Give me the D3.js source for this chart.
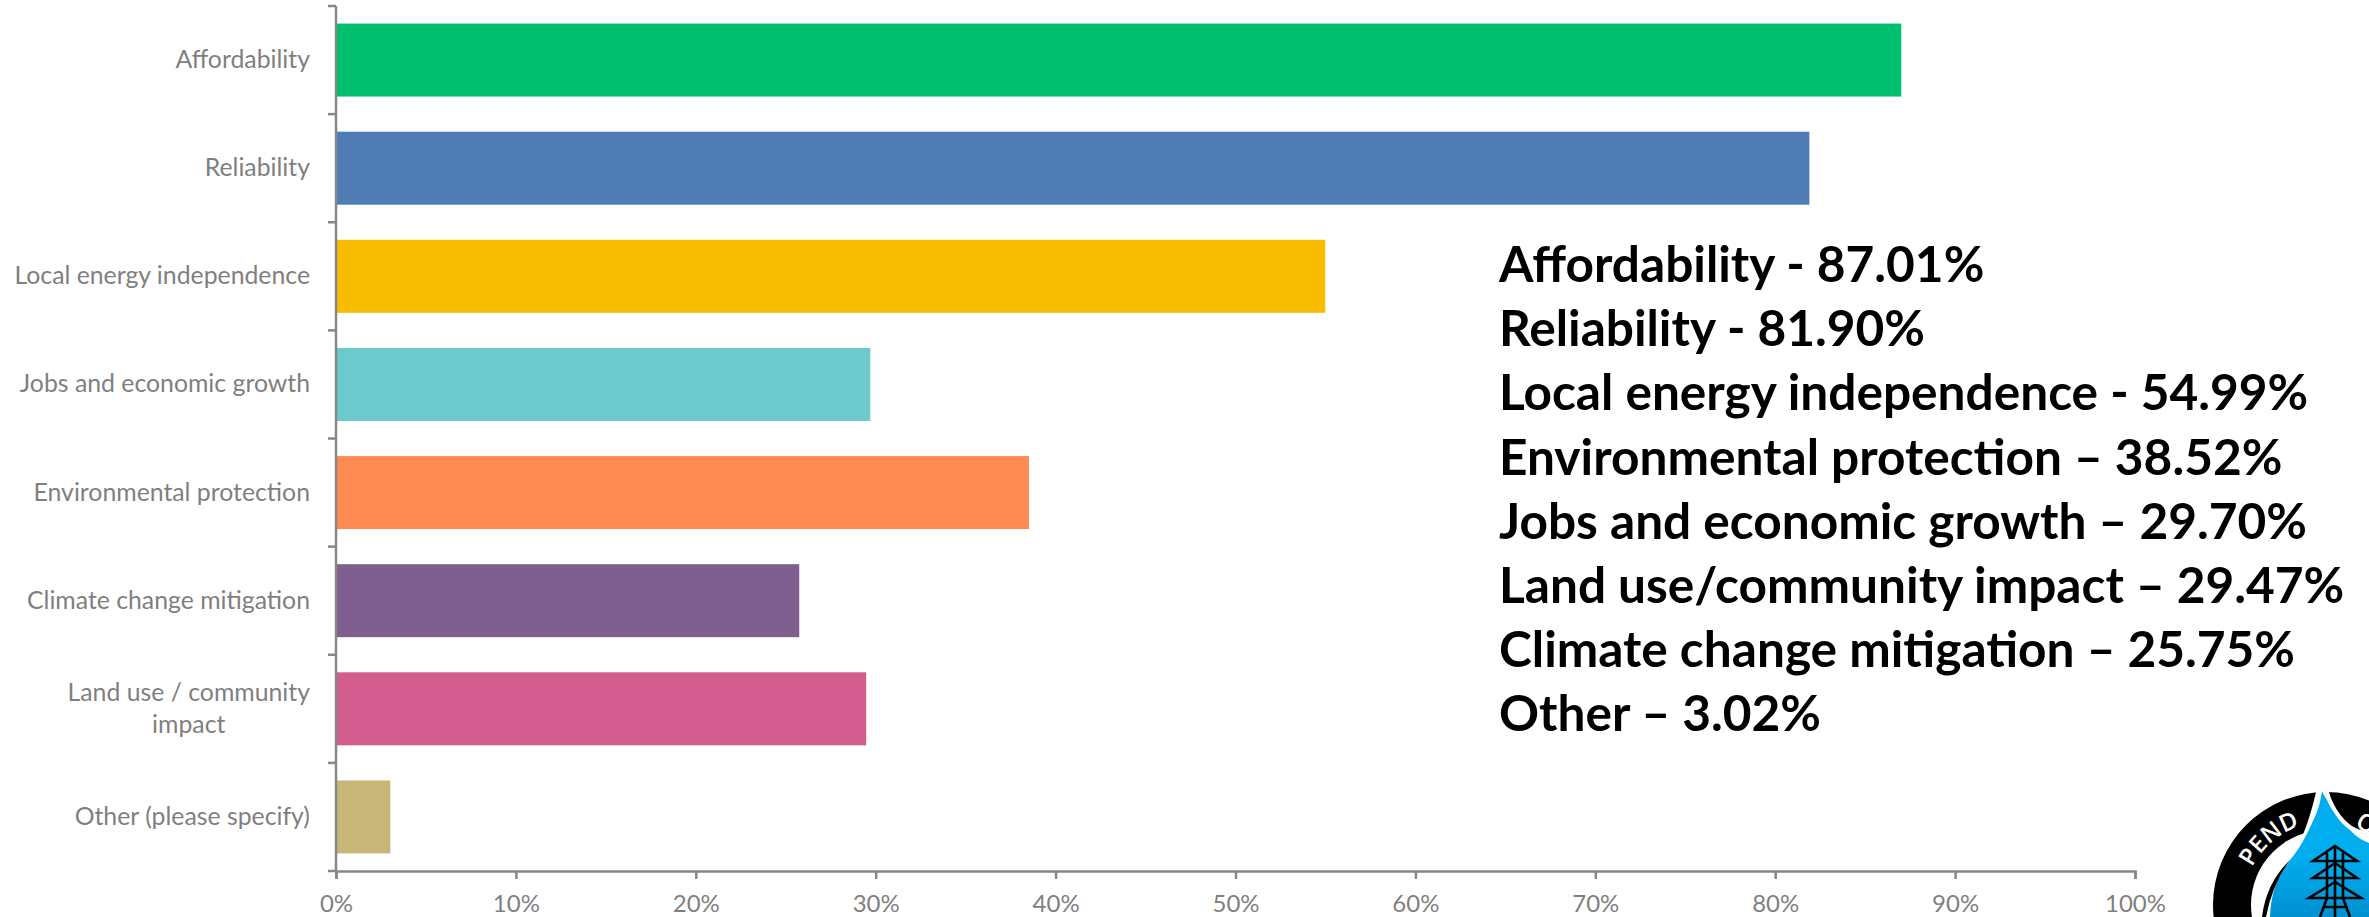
<!DOCTYPE html>
<html>
<head>
<meta charset="utf-8">
<script src="https://cdn.jsdelivr.net/npm/d3@7"></script>
<style>
  html, body { margin: 0; padding: 0; background: #fff; overflow: hidden; }
  text { font-family: Lato, "Open Sans", sans-serif; }
</style>
</head>
<body>
<svg id="chart" width="2369" height="917"></svg>
<script>
// width and height
var w = 2369;
var h = 917;

// chart data
var categories = ["Affordability", "Reliability", "Local energy independence", "Jobs and economic growth",
  "Environmental protection", "Climate change mitigation", "Land use / community impact", "Other (please specify)"];
var values = [87.01, 81.90, 54.99, 29.70, 38.52, 25.75, 29.47, 3.02];
var barColors = ["#00c070", "#4f7cb5", "#f9bd00", "#6cc9cc", "#ff8b52", "#7f5f8f", "#d25c8d", "#c8b678"];
var xTicks = [0, 10, 20, 30, 40, 50, 60, 70, 80, 90, 100];
var summaryLines = ["Affordability - 87.01%", "Reliability - 81.90%", "Local energy independence - 54.99%",
  "Environmental protection \u2013 38.52%", "Jobs and economic growth \u2013 29.70%",
  "Land use/community impact \u2013 29.47%", "Climate change mitigation \u2013 25.75%", "Other \u2013 3.02%"];

var axisColor = "#868686";
var labelColor = "#7f7f7f";

var svg = d3.select("#chart");

var x = d3.scaleLinear().domain([0, 100]).range([336, 2135]);
var y = d3.scaleBand().domain(categories).range([6, 871]).paddingInner(0.325).paddingOuter(0.1625);

// bars
svg.selectAll("rect.bar")
  .data(values)
  .enter()
  .append("rect")
  .attr("class", "bar")
  .attr("x", x(0))
  .attr("y", function(d, i) { return y(categories[i]); })
  .attr("width", function(d) { return x(d) - x(0); })
  .attr("height", y.bandwidth())
  .attr("fill", function(d, i) { return barColors[i]; });

// x axis
var xAxis = d3.axisBottom(x)
  .tickValues(xTicks)
  .tickFormat(function(d) { return d + "%"; })
  .tickSize(8)
  .tickPadding(16);

var gx = svg.append("g").attr("transform", "translate(0,871)").call(xAxis);
gx.selectAll("text").attr("font-size", 24).attr("fill", labelColor).style("font-family", "Lato");
gx.selectAll("line").attr("stroke", axisColor).attr("stroke-width", 2.5);
gx.select(".domain").attr("stroke", axisColor).attr("stroke-width", 2.5);

// y axis: ticks sit between the categories
var step = y.step();
var yEdges = categories.map(function(d) { return y(d) - y.paddingInner() * step / 2; });
yEdges.push(871);

var gy = svg.append("g");
gy.append("line")
  .attr("x1", x(0)).attr("x2", x(0))
  .attr("y1", yEdges[0]).attr("y2", 871)
  .attr("stroke", axisColor).attr("stroke-width", 2.5);
gy.selectAll("line.tick")
  .data(yEdges)
  .enter()
  .append("line")
  .attr("class", "tick")
  .attr("x1", x(0) - 8).attr("x2", x(0))
  .attr("y1", function(d) { return d; })
  .attr("y2", function(d) { return d; })
  .attr("stroke", axisColor).attr("stroke-width", 2.5);

// category labels
var labelRight = 310;
svg.selectAll("text.cat")
  .data(categories)
  .enter()
  .append("text")
  .attr("class", "cat")
  .attr("text-anchor", "end")
  .attr("font-size", 24.8)
  .attr("fill", labelColor)
  .each(function(d) {
    var t = d3.select(this);
    var cy = y(d) + y.bandwidth() / 2;
    if (d == "Land use / community impact") {
      var first = t.append("tspan").attr("x", labelRight).attr("y", cy - 8).text("Land use / community");
      var len = first.node().getComputedTextLength();
      t.append("tspan").attr("x", labelRight - len / 2).attr("y", cy + 24)
        .attr("text-anchor", "middle").text("impact");
    } else {
      t.attr("x", labelRight).attr("y", cy + 8).text(d);
    }
  });

// summary text block
svg.selectAll("text.summary")
  .data(summaryLines)
  .enter()
  .append("text")
  .attr("class", "summary")
  .attr("x", 1499)
  .attr("y", function(d, i) { return 282 + i * 64.2; })
  .attr("font-size", 49.6)
  .attr("font-weight", 700)
  .attr("fill", "#000")
  .text(function(d) { return d; });

// logo, cut off by the corner of the picture
var logo = svg.append("g").attr("class", "logo").attr("transform", "translate(2326,905)");
var ring = d3.arc().innerRadius(75).outerRadius(113).startAngle(0).endAngle(2 * Math.PI);
logo.append("path").attr("d", ring()).attr("fill", "#000");

var defs = svg.append("defs");
var grad = defs.append("linearGradient").attr("id", "dropFill").attr("x1", 0).attr("x2", 0).attr("y1", 0).attr("y2", 1);
grad.append("stop").attr("offset", "0.5").attr("stop-color", "#00aeef");
grad.append("stop").attr("offset", "1").attr("stop-color", "#0090d0");
defs.append("path").attr("id", "ringText").attr("d", "M -83 0 A 83 83 0 0 1 83 0");

// white gap round the drop
logo.append("path")
  .attr("d", "M -4 -120 L -10 -113 C -13 -100 -17 -85 -24 -68 L -30 -30 L 60 0 L 60 -73 L 43 -73 C 30 -75 21 -80 11 -95 C 7 -102 4 -108 3 -113 Z")
  .attr("fill", "#fff");

// drop
logo.append("path")
  .attr("d", "M -4 -114 C -6 -100 -9 -92 -14 -82 C -17 -75 -26 -56 -36 -45 C -42 -36 -48 -26 -51 -18 C -54 -8 -56 2 -56 14 L 60 14 L 60 -55 L 43 -62 C 35 -65 30 -69 24 -75 C 18 -79 14 -84 11 -88 C 6 -95 3 -100 1 -105 C -1 -108 -3 -111 -4 -114 Z")
  .attr("fill", "url(#dropFill)");

// black crescent left of the drop
logo.append("path")
  .attr("d", "M -36 -45 Q -60 -22 -64 12 L -60 12 Q -54 -20 -36 -45 Z")
  .attr("fill", "#000");

logo.append("text")
  .attr("font-size", 24).attr("font-weight", 600).attr("fill", "#fff")
  .style("font-family", "Open Sans")
  .append("textPath").attr("href", "#ringText").attr("startOffset", "15%").text("PEND");
logo.append("text")
  .attr("font-size", 24).attr("font-weight", 600).attr("fill", "#fff")
  .style("font-family", "Open Sans")
  .append("textPath").attr("href", "#ringText").attr("startOffset", "61%").text("O");

// pylon
var pylon = logo.append("g").attr("stroke", "#000").attr("stroke-width", 2.6).attr("fill", "none");
pylon.append("path").attr("d", "M 9 -59 L -13 -44 L 31 -44 Z");
pylon.append("path").attr("d", "M 9 -42 L -13 -27 L 31 -27 Z");
pylon.append("path").attr("d", "M 9 -23 L -17 -7 L 35 -7 Z");
pylon.append("path").attr("d", "M 1 -52 L 1 -7 L -6 12 M 17 -52 L 17 -7 L 24 12 M 9 -59 L 9 12 M -2 2 L 20 2");
</script>
</body>
</html>
